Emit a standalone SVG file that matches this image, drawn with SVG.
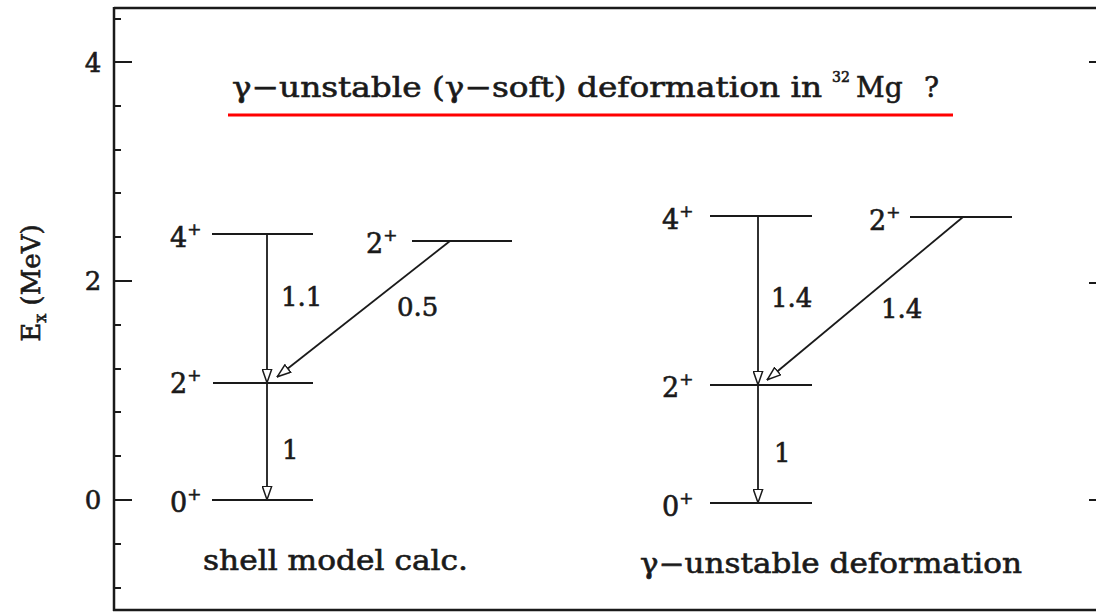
<svg xmlns="http://www.w3.org/2000/svg" width="1096" height="615" viewBox="0 0 1096 615">
<style>
.t{font-family:"DejaVu Serif","Liberation Serif",serif;fill:#1a1a1a;stroke:#1a1a1a;stroke-width:0.6;}
.lv{stroke:#1a1a1a;stroke-width:2;fill:none;}
.ax{stroke:#1a1a1a;stroke-width:2.5;fill:none;}
.tk{stroke:#1a1a1a;stroke-width:2;}
.ar{stroke:#1a1a1a;stroke-width:1.8;fill:none;marker-end:url(#ah);}
</style>
<defs>
<marker id="ah" viewBox="0 0 15 11" refX="14.5" refY="5.5" markerWidth="15" markerHeight="11" markerUnits="userSpaceOnUse" orient="auto">
<path d="M0.8,0.8 L14.2,5.5 L0.8,10.2 z" fill="#fff" stroke="#1a1a1a" stroke-width="1.5"/>
</marker>
</defs>
<rect width="1096" height="615" fill="#fff"/>
<g id="frame">
<line class="ax" x1="114" y1="8" x2="1096" y2="8"/>
<line class="ax" x1="114" y1="7" x2="114" y2="611"/>
<line class="ax" x1="113" y1="610" x2="1096" y2="610"/>
<g class="tk">
<line x1="114" y1="62" x2="132" y2="62"/>
<line x1="114" y1="281" x2="132" y2="281"/>
<line x1="114" y1="500" x2="132" y2="500"/>
<line x1="114" y1="19" x2="121" y2="19"/>
<line x1="114" y1="106" x2="121" y2="106"/>
<line x1="114" y1="150" x2="121" y2="150"/>
<line x1="114" y1="193" x2="121" y2="193"/>
<line x1="114" y1="237" x2="121" y2="237"/>
<line x1="114" y1="325" x2="121" y2="325"/>
<line x1="114" y1="369" x2="121" y2="369"/>
<line x1="114" y1="412" x2="121" y2="412"/>
<line x1="114" y1="456" x2="121" y2="456"/>
<line x1="114" y1="544" x2="121" y2="544"/>
<line x1="114" y1="588" x2="121" y2="588"/>
<line x1="1089" y1="62" x2="1096" y2="62"/>
<line x1="1089" y1="283" x2="1096" y2="283"/>
<line x1="1089" y1="500" x2="1096" y2="500"/>
</g>
<text class="t" x="93" y="72" font-size="26" text-anchor="middle">4</text>
<text class="t" x="93" y="290" font-size="26" text-anchor="middle">2</text>
<text class="t" x="93" y="509" font-size="26" text-anchor="middle">0</text>
<text class="t" transform="translate(40,283) rotate(-90)" font-size="26" text-anchor="middle">E<tspan font-size="16" dy="6">x</tspan><tspan dy="-6"> (MeV)</tspan></text>
</g>
<g id="title">
<text class="t" x="232" y="97" font-size="28" textLength="590" lengthAdjust="spacingAndGlyphs">γ−unstable (γ−soft) deformation in</text>
<text class="t" x="832" y="82" font-size="14">32</text>
<text class="t" x="856" y="97" font-size="28">Mg</text>
<text class="t" x="924" y="97" font-size="28">?</text>
<line x1="228" y1="115" x2="953" y2="115" stroke="#ff0000" stroke-width="3"/>
</g>
<g id="left-4plus">
<line class="lv" x1="212" y1="234" x2="313" y2="234"/>
<text class="t" x="170" y="247" font-size="27">4<tspan font-size="17" dy="-12">+</tspan></text>
</g>
<g id="left-2plus-gamma">
<line class="lv" x1="412" y1="241" x2="512" y2="241"/>
<text class="t" x="366" y="253" font-size="27">2<tspan font-size="17" dy="-12">+</tspan></text>
</g>
<g id="left-2plus">
<line class="lv" x1="213" y1="383" x2="313" y2="383"/>
<text class="t" x="170" y="393" font-size="27">2<tspan font-size="17" dy="-12">+</tspan></text>
</g>
<g id="left-0plus">
<line class="lv" x1="212" y1="500" x2="313" y2="500"/>
<text class="t" x="170" y="512" font-size="27">0<tspan font-size="17" dy="-12">+</tspan></text>
</g>
<g id="right-4plus">
<line class="lv" x1="710" y1="216" x2="812" y2="216"/>
<text class="t" x="662" y="229" font-size="27">4<tspan font-size="17" dy="-12">+</tspan></text>
</g>
<g id="right-2plus-gamma">
<line class="lv" x1="910" y1="217" x2="1012" y2="217"/>
<text class="t" x="869" y="230" font-size="27">2<tspan font-size="17" dy="-12">+</tspan></text>
</g>
<g id="right-2plus">
<line class="lv" x1="710" y1="385" x2="812" y2="385"/>
<text class="t" x="662" y="397" font-size="27">2<tspan font-size="17" dy="-12">+</tspan></text>
</g>
<g id="right-0plus">
<line class="lv" x1="710" y1="503" x2="812" y2="503"/>
<text class="t" x="662" y="516" font-size="27">0<tspan font-size="17" dy="-12">+</tspan></text>
</g>
<g id="connectors">
<line class="ar" x1="267" y1="234" x2="267" y2="383"/>
<line class="ar" x1="267" y1="383" x2="267" y2="500"/>
<line class="ar" x1="450" y1="241" x2="277" y2="377"/>
<line class="ar" x1="758" y1="216" x2="758" y2="385"/>
<line class="ar" x1="758" y1="385" x2="758" y2="503"/>
<line class="ar" x1="963" y1="217" x2="767" y2="380"/>
<text class="t" x="281" y="306" font-size="26">1.1</text>
<text class="t" x="397" y="316" font-size="26">0.5</text>
<text class="t" x="282" y="459" font-size="26">1</text>
<text class="t" x="771" y="307" font-size="26">1.4</text>
<text class="t" x="881" y="318" font-size="26">1.4</text>
<text class="t" x="774" y="462" font-size="26">1</text>
</g>
<g id="captions">
<text class="t" x="203" y="570" font-size="27" textLength="265" lengthAdjust="spacingAndGlyphs">shell model calc.</text>
<text class="t" x="640" y="573" font-size="27" textLength="382" lengthAdjust="spacingAndGlyphs">γ−unstable deformation</text>
</g>
</svg>
